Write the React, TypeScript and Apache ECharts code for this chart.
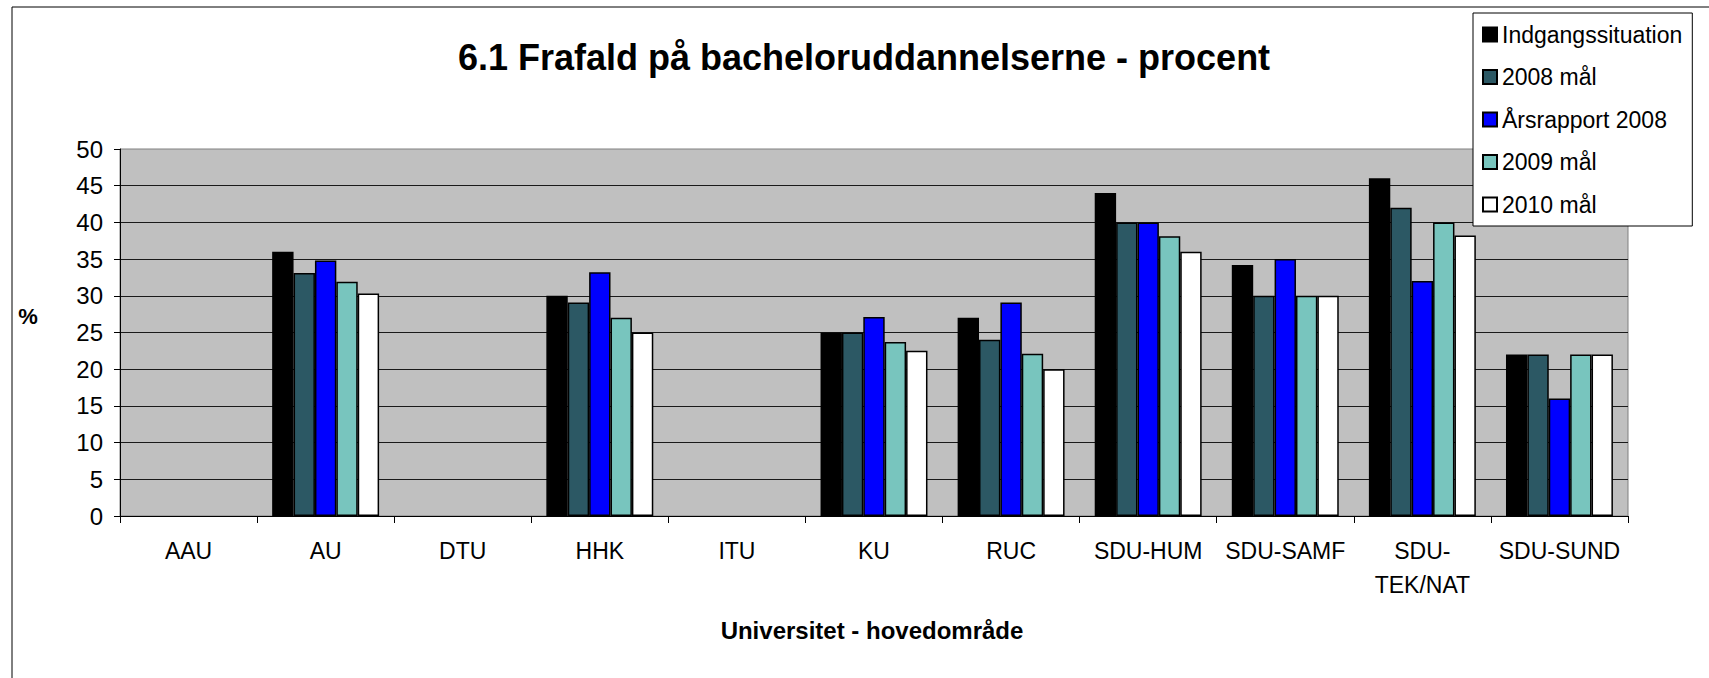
import React, { useEffect, useRef } from "react";
import * as echarts from "echarts";

const categories = ["AAU", "AU", "DTU", "HHK", "ITU", "KU", "RUC", "SDU-HUM", "SDU-SAMF", "SDU-\nTEK/NAT", "SDU-SUND"];
const seriesNames = ["Indgangssituation", "2008 mål", "Årsrapport 2008", "2009 mål", "2010 mål"];
const indgang = [null, 36, null, 30, null, 25, 27, 44, 34.2, 46, 22];
const maal2008 = [null, 33.1, null, 29.1, null, 25, 24, 40, 30, 42, 22];
const aars2008 = [null, 34.8, null, 33.2, null, 27.1, 29.1, 40, 35, 32, 16];
const maal2009 = [null, 31.9, null, 27, null, 23.7, 22.1, 38.1, 30, 40, 22];
const maal2010 = [null, 30.3, null, 25, null, 22.5, 20, 36, 30, 38.2, 22];
const yTicks = { min: 0, max: 50, interval: 5 };
const colors = ["#000000", "#2C5864", "#0000FF", "#78C5BE", "#FFFFFF"];

const FONT = "'Liberation Sans', Arial, sans-serif";

export default function App() {
  const ref = useRef<HTMLDivElement>(null);
  useEffect(() => {
    document.body.style.margin = "0";
    const chart = echarts.init(ref.current!, null, { renderer: "svg" });
    const data = [indgang, maal2008, aars2008, maal2009, maal2010];
    chart.setOption({
      animation: false,
      textStyle: { fontFamily: FONT },
      title: {
        text: "6.1 Frafald på bacheloruddannelserne - procent",
        left: 859,
        top: 34,
        textAlign: "center",
        textStyle: { fontFamily: FONT, fontSize: 36, fontWeight: "bold", color: "#000", lineHeight: 37 },
      },
      legend: {
        orient: "vertical",
        left: 1473,
        top: 13,
        padding: [10, 10, 10, 9],
        itemWidth: 14,
        itemHeight: 14,
        itemGap: 19.5,
        icon: "rect",
        backgroundColor: "#fff",
        borderColor: "#000",
        borderWidth: 1,
        z: 10,
        data: seriesNames,
        textStyle: { fontFamily: FONT, fontSize: 23, color: "#000", lineHeight: 23 },
      },
      grid: {
        left: 120,
        right: 81,
        top: 149,
        bottom: 162,
        show: true,
        backgroundColor: "#C0C0C0",
        borderColor: "#808080",
        borderWidth: 1,
      },
      xAxis: {
        type: "category",
        data: categories,
        axisLine: { show: true, lineStyle: { color: "#000", width: 1 } },
        axisTick: { show: true, alignWithLabel: false, length: 7, lineStyle: { color: "#000" } },
        axisLabel: { color: "#000", fontSize: 23, fontFamily: FONT, margin: 18, lineHeight: 34, interval: 0 },
        splitLine: { show: false },
      },
      yAxis: {
        type: "value",
        min: yTicks.min,
        max: yTicks.max,
        interval: yTicks.interval,
        axisLine: { show: true, lineStyle: { color: "#000", width: 1 } },
        axisTick: { show: true, length: 6, lineStyle: { color: "#000" } },
        axisLabel: { color: "#000", fontSize: 24, fontFamily: FONT, margin: 17 },
        splitLine: { show: true, showMaxLine: false, lineStyle: { color: "#1a1a1a", width: 1 } },
      },
      series: seriesNames.map((name, i) => ({
        name,
        type: "bar",
        data: data[i],
        barGap: "0%",
        barCategoryGap: "22%",
        itemStyle: { color: colors[i], borderColor: "#000", borderWidth: 1.5 },
      })),
      graphic: [
        {
          type: "rect",
          shape: { x: 12, y: 7, width: 1800, height: 800 },
          style: { fill: "none", stroke: "#000", lineWidth: 1 },
          silent: true,
          z: -10,
        },
        {
          type: "text",
          x: 28,
          y: 316,
          style: { text: "%", font: `bold 22px ${FONT}`, fill: "#000", textAlign: "center", textVerticalAlign: "middle" },
        },
        {
          type: "text",
          x: 872,
          y: 630,
          style: {
            text: "Universitet - hovedområde",
            font: `bold 24px ${FONT}`,
            fill: "#000",
            textAlign: "center",
            textVerticalAlign: "middle",
          },
        },
      ],
    });
    return () => chart.dispose();
  }, []);
  return <div ref={ref} style={{ position: "fixed", left: 0, top: 0, width: 1709, height: 678, background: "#fff" }} />;
}
